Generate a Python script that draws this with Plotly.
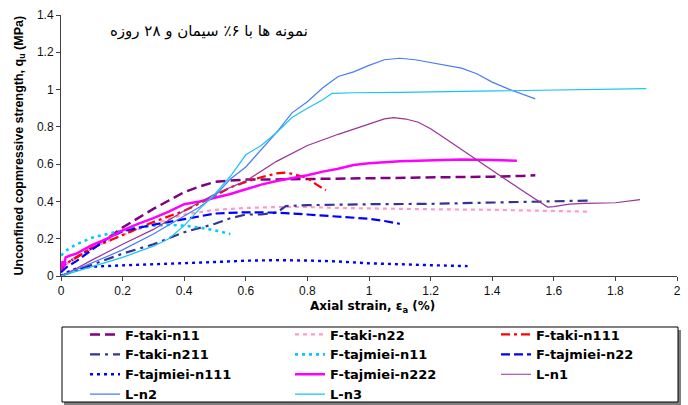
import plotly.graph_objects as go

# ---------------- data ----------------
names = ["F-taki-n11", "F-taki-n22", "F-taki-n111",
         "F-taki-n211", "F-tajmiei-n11", "F-tajmiei-n22",
         "F-tajmiei-n111", "F-tajmiei-n222", "L-n1",
         "L-n2", "L-n3"]

taki_n11_x = [0, 0.01, 0.05, 0.1, 0.15, 0.2, 0.25, 0.3, 0.35, 0.4, 0.45, 0.5, 0.55, 0.6, 0.7, 0.8, 0.9, 1.0, 1.1, 1.2, 1.3, 1.4, 1.5, 1.54]
taki_n11_y = [0.03, 0.06, 0.1, 0.15, 0.2, 0.26, 0.31, 0.36, 0.405, 0.45, 0.48, 0.505, 0.512, 0.517, 0.518, 0.52, 0.522, 0.524, 0.525, 0.528, 0.53, 0.533, 0.537, 0.54]

taki_n22_x = [0, 0.02, 0.1, 0.2, 0.3, 0.4, 0.5, 0.6, 0.7, 0.8, 0.9, 1.0, 1.2, 1.4, 1.6, 1.72]
taki_n22_y = [0.03, 0.07, 0.15, 0.22, 0.28, 0.33, 0.355, 0.365, 0.37, 0.37, 0.365, 0.362, 0.358, 0.355, 0.35, 0.345]

taki_n111_x = [0, 0.01, 0.05, 0.1, 0.2, 0.3, 0.4, 0.5, 0.55, 0.6, 0.65, 0.7, 0.73, 0.76, 0.8, 0.83, 0.86]
taki_n111_y = [0.02, 0.06, 0.1, 0.15, 0.22, 0.29, 0.35, 0.43, 0.475, 0.505, 0.53, 0.55, 0.555, 0.545, 0.525, 0.49, 0.46]

taki_n211_x = [0, 0.05, 0.1, 0.2, 0.3, 0.4, 0.5, 0.55, 0.6, 0.65, 0.7, 0.73, 0.8, 0.9, 1.0, 1.2, 1.4, 1.6, 1.72]
taki_n211_y = [0, 0.03, 0.06, 0.12, 0.17, 0.235, 0.28, 0.31, 0.33, 0.33, 0.34, 0.375, 0.38, 0.383, 0.385, 0.387, 0.395, 0.402, 0.405]

tajmiei_n11_x = [0, 0.02, 0.05, 0.1, 0.15, 0.2, 0.25, 0.3, 0.35, 0.4, 0.45, 0.5, 0.55]
tajmiei_n11_y = [0.11, 0.14, 0.17, 0.205, 0.225, 0.245, 0.26, 0.27, 0.275, 0.27, 0.26, 0.245, 0.225]

tajmiei_n22_x = [0, 0.02, 0.05, 0.1, 0.15, 0.2, 0.3, 0.4, 0.5, 0.6, 0.7, 0.8, 0.9, 1.0, 1.05, 1.1]
tajmiei_n22_y = [0.02, 0.05, 0.08, 0.14, 0.2, 0.24, 0.275, 0.305, 0.335, 0.342, 0.34, 0.33, 0.32, 0.307, 0.295, 0.28]

tajmiei_n111_x = [0, 0.02, 0.05, 0.1, 0.2, 0.3, 0.4, 0.5, 0.6, 0.7, 0.8, 0.9, 1.0, 1.1, 1.2, 1.32]
tajmiei_n111_y = [0, 0.02, 0.04, 0.05, 0.057, 0.062, 0.068, 0.075, 0.082, 0.085, 0.083, 0.078, 0.068, 0.062, 0.058, 0.053]

tajmiei_n222_x = [0, 0.005, 0.01, 0.015, 0.03, 0.05, 0.1, 0.15, 0.2, 0.25, 0.3, 0.35, 0.4, 0.45, 0.5, 0.55, 0.6, 0.65, 0.7, 0.75, 0.8, 0.85, 0.9, 0.95, 1.0, 1.1, 1.2, 1.3, 1.4, 1.48]
tajmiei_n222_y = [0.03, 0.08, 0.05, 0.1, 0.11, 0.12, 0.165, 0.2, 0.245, 0.28, 0.31, 0.345, 0.385, 0.4, 0.42, 0.44, 0.465, 0.49, 0.51, 0.525, 0.54, 0.56, 0.575, 0.595, 0.605, 0.615, 0.62, 0.625, 0.622, 0.618]

l_n1_x = [0, 0.05, 0.1, 0.2, 0.3, 0.4, 0.5, 0.6, 0.7, 0.8, 0.9, 1.0, 1.05, 1.08, 1.12, 1.16, 1.2, 1.25, 1.3, 1.35, 1.4, 1.45, 1.5, 1.55, 1.58, 1.6, 1.65, 1.7, 1.8, 1.88]
l_n1_y = [0, 0.04, 0.085, 0.17, 0.25, 0.35, 0.44, 0.51, 0.615, 0.70, 0.76, 0.815, 0.843, 0.85, 0.842, 0.825, 0.79, 0.735, 0.678, 0.622, 0.567, 0.511, 0.456, 0.4, 0.37, 0.372, 0.386, 0.39, 0.393, 0.41]

l_n2_x = [0, 0.05, 0.1, 0.2, 0.3, 0.4, 0.45, 0.5, 0.55, 0.6, 0.65, 0.7, 0.75, 0.8, 0.85, 0.9, 0.95, 1.0, 1.05, 1.1, 1.15, 1.2, 1.25, 1.3, 1.35, 1.4, 1.45, 1.5, 1.54]
l_n2_y = [0, 0.035, 0.07, 0.14, 0.225, 0.32, 0.37, 0.43, 0.52, 0.585, 0.675, 0.77, 0.875, 0.935, 1.01, 1.07, 1.095, 1.13, 1.16, 1.168, 1.16, 1.145, 1.13, 1.115, 1.085, 1.04, 1.005, 0.975, 0.95]

l_n3_x = [0, 0.05, 0.1, 0.2, 0.3, 0.35, 0.4, 0.45, 0.5, 0.55, 0.6, 0.65, 0.7, 0.75, 0.8, 0.85, 0.88, 0.95, 1.1, 1.3, 1.5, 1.7, 1.9]
l_n3_y = [0, 0.025, 0.05, 0.1, 0.16, 0.2, 0.27, 0.36, 0.44, 0.535, 0.65, 0.7, 0.77, 0.85, 0.9, 0.945, 0.98, 0.983, 0.985, 0.99, 0.995, 1.0, 1.005]

xs = [taki_n11_x, taki_n22_x, taki_n111_x, taki_n211_x, tajmiei_n11_x, tajmiei_n22_x,
      tajmiei_n111_x, tajmiei_n222_x, l_n1_x, l_n2_x, l_n3_x]
ys = [taki_n11_y, taki_n22_y, taki_n111_y, taki_n211_y, tajmiei_n11_y, tajmiei_n22_y,
      tajmiei_n111_y, tajmiei_n222_y, l_n1_y, l_n2_y, l_n3_y]

colors = ["#800080", "#FF99CC", "#FF0000", "#333399", "#00CCFF", "#0000FF",
          "#0000FF", "#FF00FF", "#993399", "#4A7BF7", "#19C3F5"]
dashes = ["10px,5px", "4px,4px", "9px,4px,3px,4px", "10px,5px,3px,5px", "3px,4px", "9px,4px",
          "3px,4px", "solid", "solid", "solid", "solid"]
widths = [2.5, 2.2, 2.2, 2.2, 2.6, 2.2, 2.4, 2.5, 1.2, 1.2, 1.2]

title_text = "نمونه ها با ۶٪ سیمان و ۲۸ روزه"
x_title = "Axial strain, ε<sub>a</sub> (%)"
y_title = "Unconfined copmressive strength, q<sub>u</sub> (MPa)"

# ---------------- figure ----------------
W, H = 688, 405
ML, MR, MT, MB = 61, 11, 15, 129
PW, PH = W - ML - MR, H - MT - MB

def px2x(px):
    return (px - ML) / PW

def py2y(py):
    return (H - MB - py) / PH

legend_ids = ["legend", "legend2", "legend3"]

fig = go.Figure()
for i, (n, x, y, c, d, w) in enumerate(zip(names, xs, ys, colors, dashes, widths)):
    fig.add_trace(go.Scatter(x=x, y=y, name=n, mode="lines",
                             legend=legend_ids[i % 3],
                             line=dict(color=c, dash=d, width=w)))

axis_common = dict(showline=True, linecolor="#404040", linewidth=1,
                   ticks="outside", ticklen=4, tickcolor="#404040",
                   showgrid=False, zeroline=False,
                   tickfont=dict(family="Liberation Sans", size=12, color="#111"))

fig.update_xaxes(range=[0, 2], dtick=0.2, tick0=0, **axis_common)
fig.update_yaxes(range=[0, 1.4], dtick=0.2, tick0=0, **axis_common)

# legend box with shadow
fig.add_shape(type="rect", xref="paper", yref="paper",
              x0=px2x(64), x1=px2x(681), y0=py2y(330), y1=py2y(405),
              fillcolor="#7f7f7f", line=dict(width=0), layer="below")
fig.add_shape(type="rect", xref="paper", yref="paper",
              x0=px2x(62), x1=px2x(678), y0=py2y(327), y1=py2y(402),
              fillcolor="white", line=dict(color="black", width=1), layer="below")

fig.add_annotation(text=title_text, xref="paper", yref="paper",
                   x=px2x(209), y=py2y(31), xanchor="center", yanchor="middle",
                   showarrow=False,
                   font=dict(family="DejaVu Sans", size=15, color="black"))
fig.add_annotation(text=x_title, xref="paper", yref="paper",
                   x=px2x(372), y=py2y(307), xanchor="center", yanchor="middle",
                   showarrow=False,
                   font=dict(family="DejaVu Sans", size=12, color="black", weight="bold"))
fig.add_annotation(text=y_title, xref="paper", yref="paper", textangle=-90,
                   x=px2x(19), y=0.5, xanchor="center", yanchor="middle",
                   showarrow=False,
                   font=dict(family="Liberation Sans", size=12.5, color="black", weight="bold"))

legend_font = dict(family="DejaVu Sans", size=13, color="black", weight="bold")
col_left = [85, 290, 496]
leg_top = 319.5
layout_legends = {}
for lid, lx in zip(legend_ids, col_left):
    layout_legends[lid] = dict(orientation="v", xref="paper", yref="paper",
                               x=px2x(lx), y=py2y(leg_top), xanchor="left", yanchor="top",
                               bgcolor="rgba(0,0,0,0)", borderwidth=0,
                               font=legend_font, tracegroupgap=0, itemwidth=30)

fig.update_layout(
    width=W, height=H,
    margin=dict(l=ML, r=MR, t=MT, b=MB, autoexpand=False),
    paper_bgcolor="white", plot_bgcolor="white",
    **layout_legends,
)

fig.write_html("out.html")
